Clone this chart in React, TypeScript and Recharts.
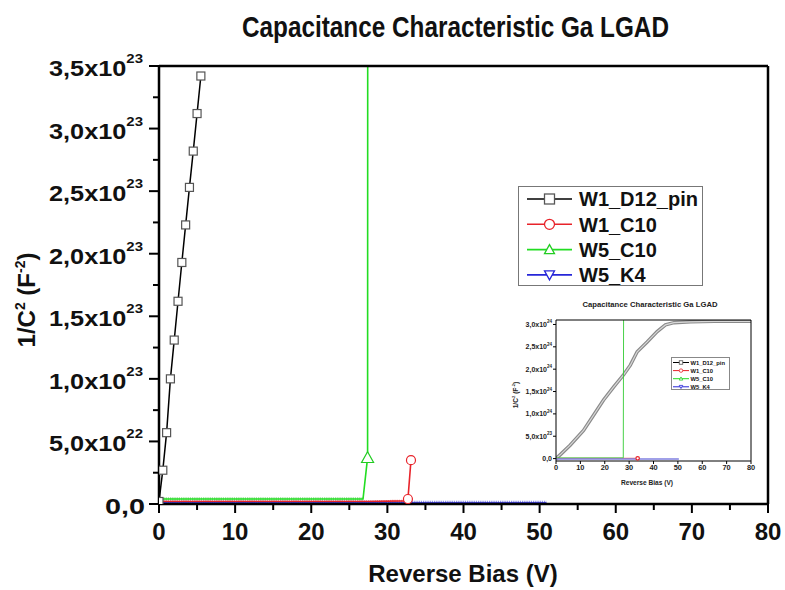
import React from 'react';
import { LineChart, Line, XAxis, YAxis, Legend } from 'recharts';

const FONT = 'Arial, "Liberation Sans", Helvetica, sans-serif';

// ---------------- Main chart data ----------------
const seriesOrder = ['W1_D12_pin', 'W1_C10', 'W5_C10', 'W5_K4'];

const pinV = [0, 0.5, 1.0, 1.5, 2.0, 2.5, 3.0, 3.5, 4.0, 4.5, 5.0, 5.5];
const pinC = [0.02e23, 0.27e23, 0.57e23, 1.0e23, 1.31e23, 1.62e23, 1.93e23, 2.23e23, 2.53e23, 2.82e23, 3.12e23, 3.42e23];

const w1c10FlatV = [0, 10, 20, 27.5, 32.4];
const w1c10FlatC = [0.02e23, 0.02e23, 0.02e23, 0.02e23, 0.025e23];
const w1c10RiseV = [32.7, 33.1];
const w1c10RiseC = [0.04e23, 0.35e23];

const w5c10FlatV = [0, 5, 10, 15, 20, 25, 26.8];
const w5c10FlatC = [0.04e23, 0.04e23, 0.04e23, 0.04e23, 0.04e23, 0.04e23, 0.04e23];
const w5c10RiseV = [27.4, 27.6];
const w5c10RiseC = [0.37e23, 40e23];

const w5k4FlatV = [0, 10, 20, 30, 40, 50.9];
const w5k4FlatC = [0.012e23, 0.012e23, 0.012e23, 0.012e23, 0.012e23, 0.012e23];

const mainXTicks = [0, 5, 10, 15, 20, 25, 30, 35, 40, 45, 50, 55, 60, 65, 70, 75, 80];
const mainYTicks = [0, 2.5e22, 5e22, 7.5e22, 1e23, 1.25e23, 1.5e23, 1.75e23, 2e23, 2.25e23, 2.5e23, 2.75e23, 3e23, 3.25e23, 3.5e23];
const mainYMax = 3.5e23;

// ---------------- Inset chart data ----------------
const inPinV = [0, 2, 5.8, 11.3, 15.4, 19.5, 23.6, 27.8, 30.5, 33.3, 37.4, 41.5, 44.9, 48.4, 55.3, 65, 80];
const inPinC = [0.0, 0.1e24, 0.3e24, 0.63e24, 0.97e24, 1.31e24, 1.6e24, 1.88e24, 2.09e24, 2.39e24, 2.61e24, 2.84e24, 2.99e24, 3.04e24, 3.06e24, 3.07e24, 3.07e24];
const inW1c10V = [0, 33.5];
const inW1c10C = [0.005e24, 0.005e24];
const inW5c10V = [0, 27.6, 27.8];
const inW5c10C = [0.015e24, 0.015e24, 5e24];
const inW5k4V = [0, 50.4];
const inW5k4C = [-0.012e24, -0.012e24];

const inXTicks = [0, 10, 20, 30, 40, 50, 60, 70, 80];
const inYTicks = [0, 5e23, 1e24, 1.5e24, 2e24, 2.5e24, 3e24];

const TITLE = 'Capacitance Characteristic Ga LGAD';
const XTITLE = 'Reverse Bias (V)';

// ---------------- styles ----------------
type Shape = 'square' | 'circle' | 'up' | 'down';
const STYLE: Record<string, { color: string; marker: Shape; mstroke: string; band: string }> = {
  W1_D12_pin: { color: '#000000', marker: 'square', mstroke: '#555555', band: '#8c8c8c' },
  W1_C10: { color: '#e8232a', marker: 'circle', mstroke: '#e8232a', band: '#f09090' },
  W5_C10: { color: '#22dd22', marker: 'up', mstroke: '#22cc22', band: '#90e490' },
  W5_K4: { color: '#2626d8', marker: 'down', mstroke: '#2626d8', band: '#9090ea' },
};

const pts = (vs: number[], cs: number[]) => vs.map((v, i) => ({ v, c: cs[i] }));

function Marker({ shape, cx, cy, size, stroke, sw }: { shape: Shape; cx: number; cy: number; size: number; stroke: string; sw: number }) {
  const h = size / 2;
  if (shape === 'square') return <rect x={cx - h} y={cy - h} width={size} height={size} fill="#fff" stroke={stroke} strokeWidth={sw} />;
  if (shape === 'circle') return <circle cx={cx} cy={cy} r={h} fill="#fff" stroke={stroke} strokeWidth={sw} />;
  if (shape === 'up')
    return <polygon points={`${cx},${cy - h} ${cx + h},${cy + h * 0.8} ${cx - h},${cy + h * 0.8}`} fill="#fff" stroke={stroke} strokeWidth={sw} />;
  return <polygon points={`${cx},${cy + h} ${cx + h},${cy - h * 0.8} ${cx - h},${cy - h * 0.8}`} fill="#fff" stroke={stroke} strokeWidth={sw} />;
}

const makeDot = (name: string, firstMarked: number, size: number, maxVal: number) => (p: any) => {
  const st = STYLE[name];
  const key = `dot-${name}-${p.index}`;
  if (p.index < firstMarked || p.cx == null || p.cy == null || p.payload.c > maxVal) return <g key={key} />;
  return (
    <g key={key}>
      <Marker shape={st.marker} cx={p.cx} cy={p.cy} size={size} stroke={st.mstroke} sw={1.2} />
    </g>
  );
};

function sci(v: number) {
  if (v === 0) return { m: '0,0', e: '' };
  const e = Math.floor(Math.log10(Math.abs(v)) + 1e-9);
  const m = (v / Math.pow(10, e)).toFixed(1).replace('.', ',');
  return { m: m + 'x10', e: String(e) };
}
const isMajor = (v: number, step: number) => Math.abs(v / step - Math.round(v / step)) < 1e-6;

// ---------------- main ticks ----------------
const MainLeftTick = (p: any) => {
  const v = p.payload.value;
  const major = isMajor(v, 5e22);
  const s = sci(v);
  return (
    <g>
      <line x1={p.x - (major ? 10 : 6)} x2={p.x} y1={p.y} y2={p.y} stroke="#000" strokeWidth={2} />
      {major && (
        <text
          x={p.x - (s.e ? 16 : 14)}
          y={p.y + 10}
          textAnchor="end"
          fontFamily={FONT}
          fontWeight="bold"
          fontSize={22}
          fill="#111"
          textLength={s.e ? 94 : 40}
          lengthAdjust="spacingAndGlyphs"
        >
          <tspan>{s.m}</tspan>
          {s.e && (
            <tspan dy={-13} fontSize={13}>
              {s.e}
            </tspan>
          )}
        </text>
      )}
    </g>
  );
};
const MainRightTick = (p: any) => {
  const major = isMajor(p.payload.value, 5e22);
  return <line x1={p.x - (major ? 10 : 6)} x2={p.x} y1={p.y} y2={p.y} stroke="#000" strokeWidth={2} />;
};
const MainBottomTick = (p: any) => {
  const v = p.payload.value;
  const major = isMajor(v, 10);
  return (
    <g>
      <line x1={p.x} x2={p.x} y1={p.y} y2={p.y + (major ? 9 : 6)} stroke="#000" strokeWidth={2} />
      {major && (
        <text x={p.x} y={p.y + 36} textAnchor="middle" fontFamily={FONT} fontWeight="bold" fontSize={24} fill="#111">
          {v}
        </text>
      )}
    </g>
  );
};
const MainTopTick = (p: any) => {
  const major = isMajor(p.payload.value, 10);
  return <line x1={p.x} x2={p.x} y1={p.y} y2={p.y + (major ? 10 : 6)} stroke="#000" strokeWidth={2} />;
};

// ---------------- inset ticks ----------------
const InLeftTick = (p: any) => {
  const s = sci(p.payload.value);
  return (
    <g>
      <line x1={p.x - 3} x2={p.x} y1={p.y} y2={p.y} stroke="#000" strokeWidth={1} />
      <text x={p.x - 4} y={p.y + 2.5} textAnchor="end" fontFamily={FONT} fontWeight="bold" fontSize={7} fill="#222">
        <tspan>{s.m}</tspan>
        {s.e && (
          <tspan dy={-3.5} fontSize={4.5}>
            {s.e}
          </tspan>
        )}
      </text>
    </g>
  );
};
const InBottomTick = (p: any) => (
  <g>
    <line x1={p.x} x2={p.x} y1={p.y} y2={p.y + 3} stroke="#000" strokeWidth={1} />
    <text x={p.x} y={p.y + 9} textAnchor="middle" fontFamily={FONT} fontWeight="bold" fontSize={7.4} fill="#222">
      {p.payload.value}
    </text>
  </g>
);

// ---------------- legends ----------------
const makeLegend = (o: { w: number; h: number; y0: number; dy: number; lx1: number; lx2: number; tx: number; fs: number; ms: number; lw: number; border: string }) =>
  (props: any) => {
    const payload = (props.payload || [])
      .filter((p: any) => STYLE[p.value])
      .sort((a: any, b: any) => seriesOrder.indexOf(a.value) - seriesOrder.indexOf(b.value));
    return (
      <div style={{ width: o.w, height: o.h, border: `1px solid ${o.border}`, background: '#fff', boxSizing: 'border-box' }}>
        <svg width={o.w - 2} height={o.h - 2} style={{ display: 'block' }}>
          {payload.map((p: any, i: number) => {
            const st = STYLE[p.value];
            const cy = o.y0 + i * o.dy;
            return (
              <g key={p.value}>
                <line x1={o.lx1} x2={o.lx2} y1={cy} y2={cy} stroke={st.color} strokeWidth={o.lw} />
                <Marker shape={st.marker} cx={(o.lx1 + o.lx2) / 2} cy={cy} size={o.ms} stroke={st.mstroke} sw={o.lw * 0.8} />
                <text x={o.tx} y={cy + o.fs * 0.36} fontFamily={FONT} fontWeight="bold" fontSize={o.fs} fill="#111">
                  {p.value}
                </text>
              </g>
            );
          })}
        </svg>
      </div>
    );
  };

const mainLegend = makeLegend({ w: 185, h: 100, y0: 12, dy: 25.3, lx1: 8, lx2: 53, tx: 60, fs: 20, ms: 10, lw: 1.6, border: '#777' });
const insetLegend = makeLegend({ w: 59, h: 33, y0: 4.5, dy: 8.1, lx1: 1, lx2: 17, tx: 18.5, fs: 5.8, ms: 3.5, lw: 1, border: '#888' });

const AXL = { stroke: '#000', strokeWidth: 2.5 };
const AXS = { stroke: '#000', strokeWidth: 1 };

export default function App() {
  const black = pts(pinV, pinC);
  const redFlat = pts(w1c10FlatV, w1c10FlatC);
  const red = pts(w1c10FlatV.concat(w1c10RiseV), w1c10FlatC.concat(w1c10RiseC));
  const greenFlat = pts(w5c10FlatV, w5c10FlatC);
  const green = pts(w5c10FlatV.concat(w5c10RiseV), w5c10FlatC.concat(w5c10RiseC));
  const blue = pts(w5k4FlatV, w5k4FlatC);

  return (
    <div style={{ position: 'absolute', left: 0, top: 0, width: 785, height: 590, background: '#fff' }}>
      <div style={{ position: 'absolute', left: 0, top: 0 }}>
        <LineChart width={785} height={590} margin={{ top: 65, right: 16, bottom: 85, left: 158 }}>
          <XAxis dataKey="v" type="number" domain={[0, 80]} ticks={mainXTicks} interval={0} height={1} tickSize={0} tickMargin={0} tickLine={false} tick={<MainBottomTick />} axisLine={AXL} allowDataOverflow />
          <XAxis xAxisId="top" orientation="top" dataKey="v" type="number" domain={[0, 80]} ticks={mainXTicks} interval={0} height={1} tickSize={0} tickMargin={0} tickLine={false} tick={<MainTopTick />} axisLine={AXL} />
          <YAxis type="number" domain={[0, mainYMax]} ticks={mainYTicks} interval={0} width={1} tickSize={0} tickMargin={0} tickLine={false} tick={<MainLeftTick />} axisLine={AXL} allowDataOverflow />
          <YAxis yAxisId="right" orientation="right" type="number" domain={[0, mainYMax]} ticks={mainYTicks} interval={0} width={1} tickSize={0} tickMargin={0} tickLine={false} tick={<MainRightTick />} axisLine={AXL} />
          <Legend layout="vertical" align="center" verticalAlign="middle" content={mainLegend} wrapperStyle={{ left: 518, top: 186, width: 185, height: 100 }} />

          <Line data={greenFlat} dataKey="c" name="g-band" legendType="none" stroke={STYLE.W5_C10.band} strokeWidth={3.5} strokeDasharray="1.3 0.9" dot={false} activeDot={false} isAnimationActive={false} />
          <Line data={redFlat} dataKey="c" name="r-band" legendType="none" stroke={STYLE.W1_C10.band} strokeWidth={2.5} strokeDasharray="1.3 0.9" dot={false} activeDot={false} isAnimationActive={false} />
          <Line data={blue} dataKey="c" name="b-band" legendType="none" stroke={STYLE.W5_K4.band} strokeWidth={3.5} strokeDasharray="1.3 0.9" dot={false} activeDot={false} isAnimationActive={false} />

          <Line data={black} dataKey="c" name="W1_D12_pin" stroke={STYLE.W1_D12_pin.color} strokeWidth={1.5} dot={makeDot('W1_D12_pin', 0, 8, mainYMax)} activeDot={false} isAnimationActive={false} />
          <Line data={red} dataKey="c" name="W1_C10" stroke={STYLE.W1_C10.color} strokeWidth={1.6} dot={makeDot('W1_C10', w1c10FlatV.length, 9, mainYMax)} activeDot={false} isAnimationActive={false} />
          <Line data={green} dataKey="c" name="W5_C10" stroke={STYLE.W5_C10.color} strokeWidth={1.6} dot={makeDot('W5_C10', w5c10FlatV.length, 12, mainYMax)} activeDot={false} isAnimationActive={false} />
          <Line data={blue} dataKey="c" name="W5_K4" stroke={STYLE.W5_K4.color} strokeWidth={0.8} dot={makeDot('W5_K4', w5k4FlatV.length, 10, mainYMax)} activeDot={false} isAnimationActive={false} />
        </LineChart>
      </div>

      <div style={{ position: 'absolute', left: 480, top: 295 }}>
        <LineChart width={280} height={195} margin={{ top: 24, right: 8, bottom: 28, left: 75 }}>
          <XAxis dataKey="v" type="number" domain={[0, 80]} ticks={inXTicks} interval={0} height={1} tickSize={0} tickMargin={0} tickLine={false} tick={<InBottomTick />} axisLine={AXS} allowDataOverflow />
          <XAxis xAxisId="top" orientation="top" dataKey="v" type="number" domain={[0, 80]} height={1} tick={false} tickLine={false} axisLine={AXS} />
          <YAxis type="number" domain={[-0.054e24, 3.1e24]} ticks={inYTicks} interval={0} width={1} tickSize={0} tickMargin={0} tickLine={false} tick={<InLeftTick />} axisLine={AXS} allowDataOverflow />
          <YAxis yAxisId="right" orientation="right" type="number" domain={[-0.054e24, 3.1e24]} width={1} tick={false} tickLine={false} axisLine={AXS} />
          <Legend layout="vertical" align="center" verticalAlign="middle" content={insetLegend} wrapperStyle={{ left: 191, top: 62, width: 59, height: 33 }} />

          <Line data={pts(inPinV, inPinC)} dataKey="c" name="pin-band" legendType="none" stroke="#8a8a8a" strokeWidth={3.5} dot={false} activeDot={false} isAnimationActive={false} />
          <Line data={pts(inPinV, inPinC)} dataKey="c" name="W1_D12_pin" stroke="#d8d8d8" strokeWidth={1.2} dot={false} activeDot={false} isAnimationActive={false} />
          <Line data={pts(inW1c10V, inW1c10C)} dataKey="c" name="W1_C10" stroke="#f07070" strokeWidth={1.2} dot={makeDot('W1_C10', 1, 3.5, 3.1e24)} activeDot={false} isAnimationActive={false} />
          <Line data={pts(inW5c10V, inW5c10C)} dataKey="c" name="W5_C10" stroke="#33cc33" strokeWidth={0.9} dot={false} activeDot={false} isAnimationActive={false} />
          <Line data={pts(inW5k4V, inW5k4C)} dataKey="c" name="W5_K4" stroke="#8080e0" strokeWidth={1.5} dot={false} activeDot={false} isAnimationActive={false} />
        </LineChart>
      </div>

      <svg width={785} height={590} style={{ position: 'absolute', left: 0, top: 0, pointerEvents: 'none' }}>
        <text x={455.5} y={37} textAnchor="middle" fontFamily={FONT} fontWeight="bold" fontSize={30} textLength={427} lengthAdjust="spacingAndGlyphs" fill="#111">
          {TITLE}
        </text>
        <text x={463} y={582} textAnchor="middle" fontFamily={FONT} fontWeight="bold" fontSize={24} fill="#111">
          {XTITLE}
        </text>
        <text transform="translate(35,300) rotate(-90)" x={0} y={0} textAnchor="middle" fontFamily={FONT} fontWeight="bold" fontSize={24} fill="#111">
          <tspan>1/C</tspan>
          <tspan dy={-10} fontSize={14}>2</tspan>
          <tspan dy={10}> (F</tspan>
          <tspan dy={-10} fontSize={14}>-2</tspan>
          <tspan dy={10}>)</tspan>
        </text>

        <text x={650} y={307} textAnchor="middle" fontFamily={FONT} fontWeight="bold" fontSize={7.7} textLength={135} lengthAdjust="spacingAndGlyphs" fill="#222">
          {TITLE}
        </text>
        <text x={647} y={484.5} textAnchor="middle" fontFamily={FONT} fontWeight="bold" fontSize={6.6} fill="#222">
          {XTITLE}
        </text>
        <text transform="translate(517.5,395) rotate(-90)" x={0} y={0} textAnchor="middle" fontFamily={FONT} fontWeight="bold" fontSize={6.6} fill="#222">
          <tspan>1/C</tspan>
          <tspan dy={-3} fontSize={4.2}>2</tspan>
          <tspan dy={3}> (F</tspan>
          <tspan dy={-3} fontSize={4.2}>-2</tspan>
          <tspan dy={3}>)</tspan>
        </text>
      </svg>
    </div>
  );
}
